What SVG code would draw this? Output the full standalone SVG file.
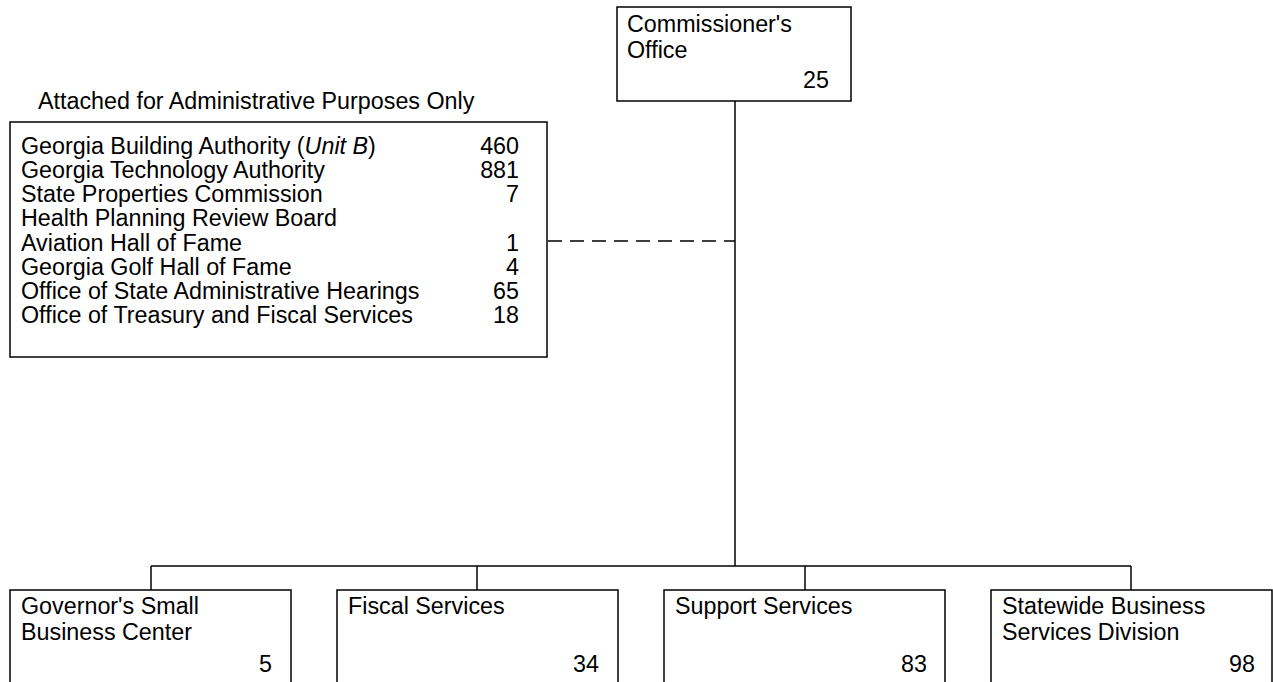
<svg xmlns="http://www.w3.org/2000/svg" width="1273" height="682" viewBox="0 0 1273 682">
<style>
.box{fill:#fff;stroke:#000;stroke-width:1.5}
.ln{fill:none;stroke:#000;stroke-width:1.5}
.dash{fill:none;stroke:#000;stroke-width:1.5;stroke-dasharray:14 8}
text{font-family:"Liberation Sans",Arial,sans-serif;font-size:23.3px;fill:#000}
.r{text-anchor:end}
</style>
<rect width="1273" height="682" fill="#fff"/>
<g id="connectors">
<line class="ln" x1="735" y1="101" x2="735" y2="566"/>
<line class="dash" x1="548" y1="241" x2="735" y2="241"/>
<line class="ln" x1="151" y1="566" x2="1131" y2="566"/>
<line class="ln" x1="151" y1="566" x2="151" y2="590"/>
<line class="ln" x1="477" y1="566" x2="477" y2="590"/>
<line class="ln" x1="805" y1="566" x2="805" y2="590"/>
<line class="ln" x1="1131" y1="566" x2="1131" y2="590"/>
</g>
<g id="commissioner">
<rect class="box" x="617" y="7" width="234" height="94"/>
<text x="627" y="32">Commissioner's</text>
<text x="627" y="58">Office</text>
<text class="r" x="829" y="88">25</text>
</g>
<g id="attached">
<text x="38" y="109">Attached for Administrative Purposes Only</text>
<rect class="box" x="10" y="122" width="537" height="235"/>
<text x="21" y="154">Georgia Building Authority (<tspan font-style="italic">Unit B</tspan>)</text>
<text class="r" x="519" y="154">460</text>
<text x="21" y="178">Georgia Technology Authority</text>
<text class="r" x="519" y="178">881</text>
<text x="21" y="202">State Properties Commission</text>
<text class="r" x="519" y="202">7</text>
<text x="21" y="226">Health Planning Review Board</text>
<text x="21" y="251">Aviation Hall of Fame</text>
<text class="r" x="519" y="251">1</text>
<text x="21" y="275">Georgia Golf Hall of Fame</text>
<text class="r" x="519" y="275">4</text>
<text x="21" y="299">Office of State Administrative Hearings</text>
<text class="r" x="519" y="299">65</text>
<text x="21" y="323">Office of Treasury and Fiscal Services</text>
<text class="r" x="519" y="323">18</text>
</g>
<g id="gsbc">
<rect class="box" x="10" y="590" width="281" height="110"/>
<text x="21" y="614">Governor's Small</text>
<text x="21" y="640">Business Center</text>
<text class="r" x="272" y="672">5</text>
</g>
<g id="fiscal">
<rect class="box" x="337" y="590" width="281" height="110"/>
<text x="348" y="614">Fiscal Services</text>
<text class="r" x="599" y="672">34</text>
</g>
<g id="support">
<rect class="box" x="664" y="590" width="281" height="110"/>
<text x="675" y="614">Support Services</text>
<text class="r" x="927" y="672">83</text>
</g>
<g id="statewide">
<rect class="box" x="991" y="590" width="281" height="110"/>
<text x="1002" y="614">Statewide Business</text>
<text x="1002" y="640">Services Division</text>
<text class="r" x="1255" y="672">98</text>
</g>
</svg>
